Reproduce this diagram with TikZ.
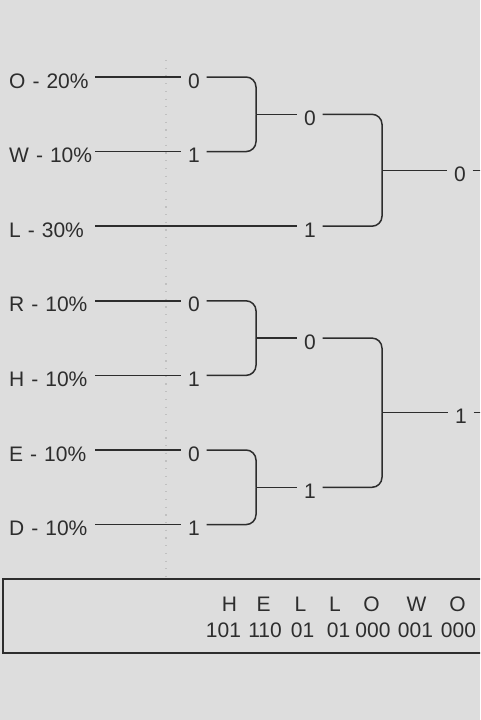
\documentclass[tikz,border=0pt]{standalone}
\usepackage{fontspec}
\setmainfont{Liberation Sans}
\definecolor{bg}{RGB}{221,221,221}
\definecolor{ink}{RGB}{45,45,45}
\definecolor{dotc}{RGB}{192,192,192}
\begin{document}
\begin{tikzpicture}[x=1pt,y=-1pt,
  every node/.style={font=\fontsize{21}{25}\selectfont, text=ink},
  leaf/.style={anchor=west, text width=83pt, align=left, inner xsep=3pt, inner ysep=0pt, text height=22pt, text depth=0pt},
  bit/.style={minimum width=25pt, inner xsep=0pt, inner ysep=0pt, text height=22pt, text depth=0pt},
  wire/.style={draw=ink, line width=1.5pt},
  elbow/.style={wire, rounded corners=10pt},
  code/.style={anchor=base, inner sep=0pt}]
\fill[bg] (0,0) rectangle (480,720);
\useasboundingbox (0,0) rectangle (480,720);
\clip (0,0) rectangle (480,720);
% dotted guide
\draw[dotc, line width=1.2pt, dash pattern=on 1.2pt off 6.5pt] (166,60) -- (166,578);
% ---------- top group ----------
\node[leaf] (lO) at (6,77) {O - 20\%};
\node[leaf] (lW) at (6,151.6) {W - 10\%};
\node[leaf] (lL) at (6,226.2) {L - 30\%};
\node[bit] (bO) at (194,77) {0};
\node[bit] (bW) at (194,151.6) {1};
\coordinate (J1) at (256,114.3);
\node[bit] (bJ1) at (310,114.3) {0};
\node[bit] (bL) at (310,226.2) {1};
\coordinate (J2) at (382,170.25);
\node[bit] (bJ2) at (460,170.25) {0};
\coordinate (e1) at (495,170.25);
\draw[wire] (lO.east) -- (bO.west);
\draw[wire] (lW.east) -- (bW.west);
\draw[wire] (lL.east) -- (bL.west);
\draw[elbow] (bO.east) -| (J1);
\draw[elbow] (bW.east) -| (J1);
\draw[wire] (J1) -- (bJ1.west);
\draw[elbow] (bJ1.east) -| (J2);
\draw[elbow] (bL.east) -| (J2);
\draw[wire] (J2) -- (bJ2.west);
\draw[wire] (bJ2.east) -- (e1);
% ---------- bottom group ----------
\node[leaf] (lR) at (6,300.8) {R - 10\%};
\node[leaf] (lH) at (6,375.4) {H - 10\%};
\node[leaf] (lE) at (6,450) {E - 10\%};
\node[leaf] (lD) at (6,524.6) {D - 10\%};
\node[bit] (bR) at (194,300.8) {0};
\node[bit] (bH) at (194,375.4) {1};
\node[bit] (bE) at (194,450) {0};
\node[bit] (bD) at (194,524.6) {1};
\coordinate (J3) at (256,338.1);
\coordinate (J4) at (256,487.3);
\node[bit] (bJ3) at (310,338.1) {0};
\node[bit] (bJ4) at (310,487.3) {1};
\coordinate (J5) at (382,412.7);
\node[bit] (bJ5) at (461,412.7) {1};
\coordinate (e2) at (495,412.7);
\draw[wire] (lR.east) -- (bR.west);
\draw[wire] (lH.east) -- (bH.west);
\draw[wire] (lE.east) -- (bE.west);
\draw[wire] (lD.east) -- (bD.west);
\draw[elbow] (bR.east) -| (J3);
\draw[elbow] (bH.east) -| (J3);
\draw[elbow] (bE.east) -| (J4);
\draw[elbow] (bD.east) -| (J4);
\draw[wire] (J3) -- (bJ3.west);
\draw[wire] (J4) -- (bJ4.west);
\draw[elbow] (bJ3.east) -| (J5);
\draw[elbow] (bJ4.east) -| (J5);
\draw[wire] (J5) -- (bJ5.west);
\draw[wire] (bJ5.east) -- (e2);
% ---------- encoded message box ----------
\draw[wire] (500,579) -- (3,579) -- (3,653) -- (500,653);
\node[code] (tH1) at (229.5,611) {H};
\node[code] (tE1) at (263.5,611) {E};
\node[code] (tL1) at (300.5,611) {L};
\node[code] (tL2) at (335,611) {L};
\node[code] (tO1) at (371.5,611) {O};
\node[code] (tW1) at (416.5,611) {W};
\node[code] (tO2) at (457.5,611) {O};
\node[code] (cH1) at (223.5,637) {101};
\node[code] (cE1) at (265,637) {110};
\node[code] (cL1) at (302.5,637) {01};
\node[code] (cL2) at (338.5,637) {01};
\node[code] (cO1) at (373,637) {000};
\node[code] (cW1) at (415.5,637) {001};
\node[code] (cO2) at (458.5,637) {000};
\end{tikzpicture}
\end{document}
